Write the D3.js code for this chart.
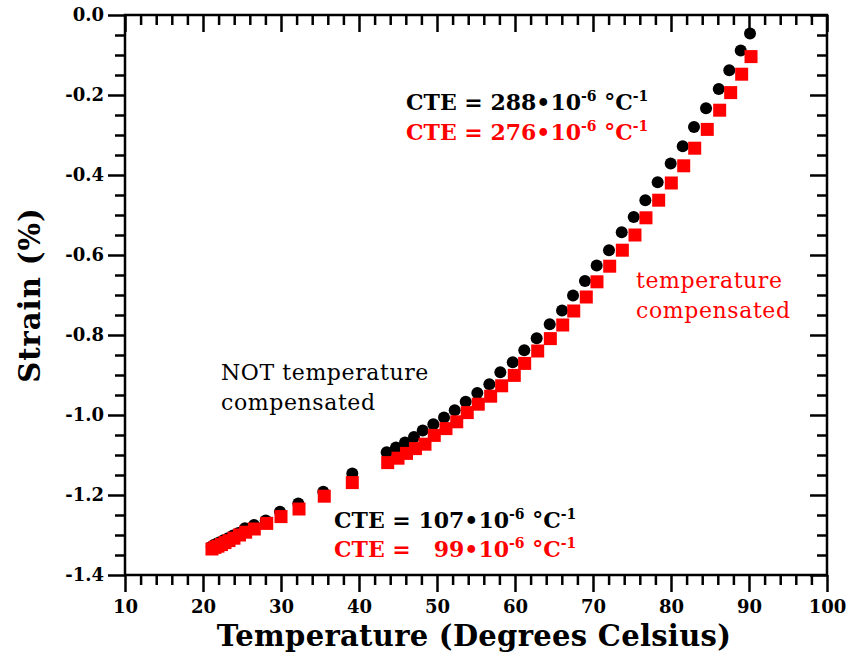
<!DOCTYPE html>
<html>
<head>
<meta charset="utf-8">
<script src="https://cdn.jsdelivr.net/npm/d3@7"></script>
<style>
  body { margin: 0; background: #fff; }
  svg text { font-family: "DejaVu Serif", serif; }
</style>
</head>
<body>
<div id="chart"></div>
<script>
// Strain vs temperature, raw (black) and temperature compensated (red)
const tempRaw = [21.12, 21.41, 21.79, 22.18, 22.63, 23.21, 23.85, 24.55, 25.38, 26.54, 28.04, 29.87, 32.22, 35.42, 39.14,
    43.55, 44.74, 45.90, 47.05, 48.17, 49.53, 50.90, 52.27, 53.68, 55.17, 56.71, 58.12, 59.71, 61.19, 62.78, 64.45,
    66.03, 67.44, 68.97, 70.47, 72.05, 73.68, 75.22, 76.71, 78.29, 79.96, 81.50, 82.95, 84.49, 86.12, 87.47, 88.94, 90.13];
const strainRaw = [-1.329, -1.325, -1.321, -1.318, -1.313, -1.308, -1.301, -1.295, -1.283, -1.275, -1.264, -1.242, -1.221, -1.192, -1.146,
    -1.093, -1.081, -1.069, -1.055, -1.039, -1.023, -1.006, -0.988, -0.967, -0.945, -0.923, -0.893, -0.868, -0.838, -0.808, -0.773,
    -0.739, -0.701, -0.665, -0.626, -0.588, -0.543, -0.505, -0.463, -0.418, -0.371, -0.328, -0.280, -0.233, -0.185, -0.138, -0.089, -0.046];

const tempComp = [21.15, 21.54, 21.92, 22.37, 22.82, 23.33, 23.97, 24.68, 25.47, 26.58, 28.17, 30.00, 32.31, 35.55, 39.14,
    43.68, 45.00, 46.09, 47.24, 48.46, 49.65, 51.15, 52.53, 53.88, 55.29, 56.88, 58.29, 59.91, 61.24, 62.91, 64.53,
    66.12, 67.53, 69.14, 70.51, 72.14, 73.76, 75.38, 76.79, 78.42, 80.04, 81.63, 83.04, 84.65, 86.24, 87.65, 89.06, 90.26];
const strainComp = [-1.335, -1.331, -1.328, -1.324, -1.319, -1.314, -1.308, -1.300, -1.293, -1.285, -1.271, -1.254, -1.235, -1.203, -1.169,
    -1.119, -1.108, -1.096, -1.084, -1.073, -1.051, -1.034, -1.017, -0.994, -0.973, -0.953, -0.927, -0.901, -0.871, -0.840, -0.809,
    -0.775, -0.740, -0.705, -0.667, -0.628, -0.588, -0.550, -0.507, -0.463, -0.420, -0.377, -0.333, -0.286, -0.238, -0.194, -0.148, -0.104];

const xTicks = [10, 20, 30, 40, 50, 60, 70, 80, 90, 100];
const yTicks = [0.0, -0.2, -0.4, -0.6, -0.8, -1.0, -1.2, -1.4];
const yTickLabels = ["0.0", "-0.2", "-0.4", "-0.6", "-0.8", "-1.0", "-1.2", "-1.4"];

const margin = { top: 15, right: 21, bottom: 84, left: 125 };
const width = 848 - margin.left - margin.right;
const height = 659 - margin.top - margin.bottom;

const svg = d3.select("#chart")
    .append("svg")
    .attr("width", 848)
    .attr("height", 659)
    .append("g")
    .attr("transform", `translate(${margin.left},${margin.top})`);

const x = d3.scaleLinear().domain([10, 100]).range([0, width]);
const y = d3.scaleLinear().domain([-1.4, 0]).range([height, 0]);

const xMinor = d3.range(10, 100.1, 2).filter(v => v % 10 !== 0);
const yMinor = d3.range(-1.4, 0.001, 0.05).map(v => +v.toFixed(2)).filter(v => Math.abs(v * 5 - Math.round(v * 5)) > 1e-6);

const major = 17, minor = 10;

function styleAxis(g) {
    g.select(".domain").remove();
    g.selectAll(".tick line").attr("stroke", "black").attr("stroke-width", 2.5);
    g.selectAll(".tick text")
        .attr("fill", "black")
        .style("font-size", "18px")
        .style("font-weight", "bold");
}

// bottom / left: ticks outward, with labels
svg.append("g")
    .attr("transform", `translate(0,${height})`)
    .call(d3.axisBottom(x).tickValues(xTicks).tickSize(major).tickPadding(8).tickFormat(d3.format("d")))
    .call(styleAxis);
svg.append("g")
    .attr("transform", `translate(0,${height})`)
    .call(d3.axisBottom(x).tickValues(xMinor).tickSize(minor).tickFormat(""))
    .call(styleAxis);

svg.append("g")
    .call(d3.axisLeft(y).tickValues(yTicks).tickSize(major).tickPadding(4).tickFormat((d, i) => yTickLabels[i]))
    .call(styleAxis);
svg.append("g")
    .call(d3.axisLeft(y).tickValues(yMinor).tickSize(minor).tickFormat(""))
    .call(styleAxis);

// top / right: ticks inward, no labels
svg.append("g")
    .call(d3.axisTop(x).tickValues(xTicks).tickSize(-major).tickFormat(""))
    .call(styleAxis);
svg.append("g")
    .call(d3.axisTop(x).tickValues(xMinor).tickSize(-minor).tickFormat(""))
    .call(styleAxis);
svg.append("g")
    .attr("transform", `translate(${width},0)`)
    .call(d3.axisRight(y).tickValues(yTicks).tickSize(-major).tickFormat(""))
    .call(styleAxis);
svg.append("g")
    .attr("transform", `translate(${width},0)`)
    .call(d3.axisRight(y).tickValues(yMinor).tickSize(-minor).tickFormat(""))
    .call(styleAxis);

// frame
svg.append("rect")
    .attr("width", width)
    .attr("height", height)
    .attr("fill", "none")
    .attr("stroke", "black")
    .attr("stroke-width", 2.5);

// axis titles
svg.append("text")
    .attr("x", width / 2 - 2)
    .attr("y", height + 71)
    .attr("text-anchor", "middle")
    .style("font-size", "29px")
    .style("font-weight", "bold")
    .style("letter-spacing", "0.3px")
    .text("Temperature (Degrees Celsius)");

svg.append("text")
    .attr("transform", `translate(${-85},${height / 2}) rotate(-90)`)
    .attr("text-anchor", "middle")
    .style("font-size", "29px")
    .style("font-weight", "bold")
    .style("letter-spacing", "1px")
    .text("Strain (%)");

// data
const rawData = tempRaw.map((t, i) => ({ t, s: strainRaw[i] }));
const compData = tempComp.map((t, i) => ({ t, s: strainComp[i] }));

svg.selectAll(".dot")
    .data(rawData)
    .enter()
    .append("circle")
    .attr("class", "dot")
    .attr("cx", d => x(d.t))
    .attr("cy", d => y(d.s))
    .attr("r", 6)
    .attr("fill", "black");

const sq = 13;
svg.selectAll(".sq")
    .data(compData)
    .enter()
    .append("rect")
    .attr("class", "sq")
    .attr("x", d => x(d.t) - sq / 2)
    .attr("y", d => y(d.s) - sq / 2)
    .attr("width", sq)
    .attr("height", sq)
    .attr("fill", "red");

// annotations
function cte(px, py, value, color) {
    const t = svg.append("text")
        .attr("x", px)
        .attr("y", py)
        .attr("fill", color)
        .style("font-size", "22px")
        .style("font-weight", "bold")
        .attr("xml:space", "preserve");
    t.append("tspan").text(`CTE = ${value}\u202210`);
    t.append("tspan").attr("dy", -9).style("font-size", "14px").text("-6");
    t.append("tspan").attr("dy", 9).text(" \u00b0C");
    t.append("tspan").attr("dy", -9).style("font-size", "14px").text("-1");
}
cte(406 - margin.left, 110 - margin.top, "288", "black");
cte(406 - margin.left, 140 - margin.top, "276", "red");
cte(334 - margin.left, 528 - margin.top, "107", "black");
cte(334 - margin.left, 557 - margin.top, "  99", "red");

function note(px, py, lines, color) {
    lines.forEach((l, i) => {
        svg.append("text")
            .attr("x", px)
            .attr("y", py + i * 30)
            .attr("fill", color)
            .style("font-size", "22px")
            .style("letter-spacing", "0.6px")
            .text(l);
    });
}
note(221 - margin.left, 380 - margin.top, ["NOT temperature", "compensated"], "black");
note(636 - margin.left, 288 - margin.top, ["temperature", "compensated"], "red");
</script>
</body>
</html>
